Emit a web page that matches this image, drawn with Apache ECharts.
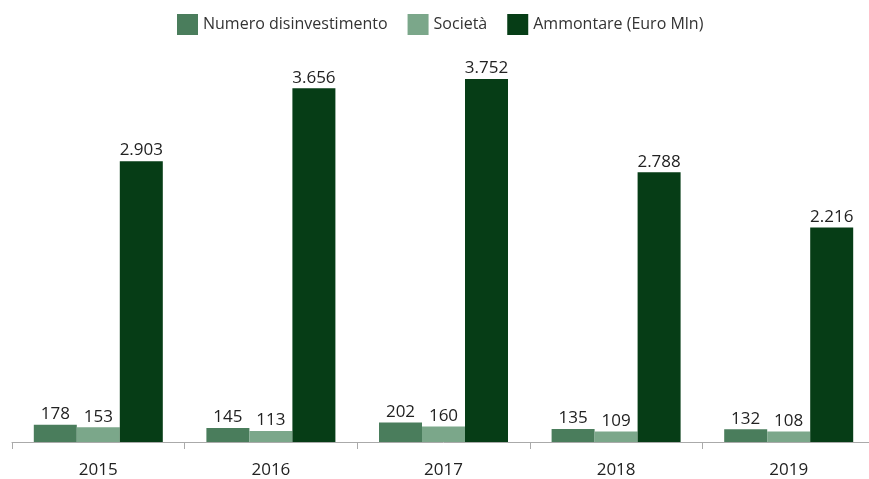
<!DOCTYPE html>
<html>
<head>
<meta charset="utf-8">
<script src="https://cdn.jsdelivr.net/npm/echarts@6/dist/echarts.min.js"></script>
<style>html,body{margin:0;padding:0;background:#fff;overflow:hidden}#c{width:875px;height:479px}</style>
</head>
<body>
<div id="c"></div>
<script>
// Disinvestimenti per anno
const years = ['2015', '2016', '2017', '2018', '2019'];
const numeroDisinvestimento = [178, 145, 202, 135, 132];
const societa = [153, 113, 160, 109, 108];
const ammontare = [2903, 3656, 3752, 2788, 2216];

const fmt = v => v.toLocaleString('de-DE');
const labelStyle = {
  show: true,
  position: 'top',
  distance: 2,
  color: '#222',
  fontFamily: 'Open Sans',
  fontSize: 17,
  formatter: p => fmt(p.value)
};

const chart = echarts.init(document.getElementById('c'));
chart.setOption({
  animation: false,
  legend: {
    top: 14,
    left: 177,
    padding: 0,
    icon: 'rect',
    itemWidth: 21,
    itemHeight: 21,
    itemGap: 20,
    textStyle: { fontFamily: 'Open Sans', fontSize: 16, color: '#333' },
    data: ['Numero disinvestimento', 'Società', 'Ammontare (Euro Mln)']
  },
  grid: { left: 12, right: 0, top: 55, bottom: 36 },
  xAxis: {
    type: 'category',
    data: years,
    axisLine: { lineStyle: { color: '#aaa', width: 1 } },
    axisTick: { show: true, length: 7, lineStyle: { color: '#aaa' } },
    axisLabel: { color: '#222', fontFamily: 'Open Sans', fontSize: 17, margin: 20 }
  },
  yAxis: { type: 'value', min: 0, max: 4000, show: false, splitLine: { show: false } },
  series: [
    { name: 'Numero disinvestimento', type: 'bar', data: numeroDisinvestimento,
      itemStyle: { color: '#4a7d5c' }, barWidth: 43, barGap: '0%', label: labelStyle },
    { name: 'Società', type: 'bar', data: societa,
      itemStyle: { color: '#7ba78a' }, barWidth: 43, barGap: '0%', label: labelStyle },
    { name: 'Ammontare (Euro Mln)', type: 'bar', data: ammontare,
      itemStyle: { color: '#063d16' }, barWidth: 43, barGap: '0%', label: labelStyle }
  ]
});
</script>
</body>
</html>
